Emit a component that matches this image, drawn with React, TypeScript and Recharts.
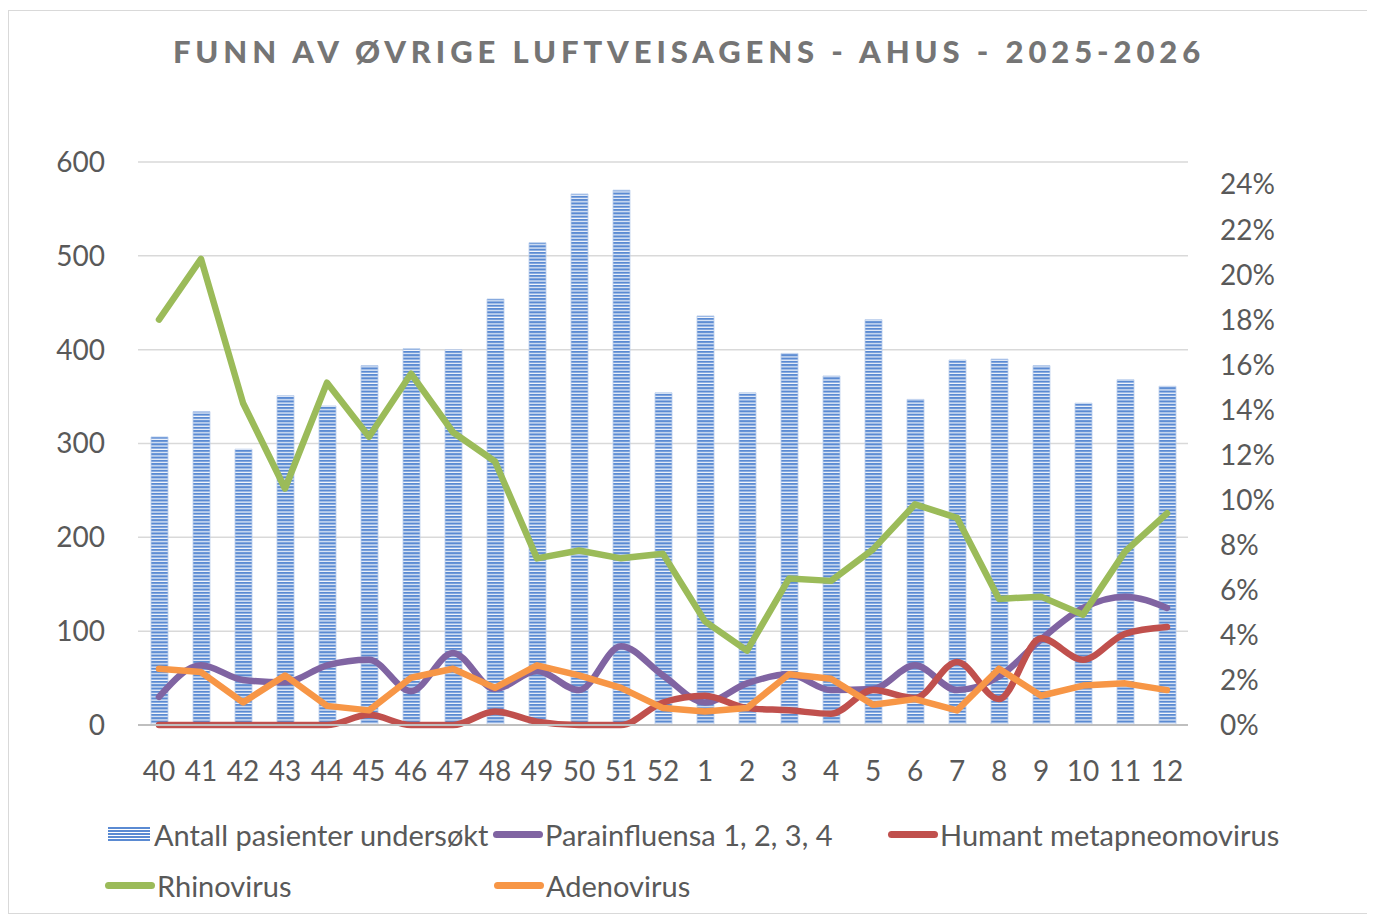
import { ComposedChart, Bar, Line, XAxis, YAxis, CartesianGrid } from 'recharts';

const weeks = ['40', '41', '42', '43', '44', '45', '46', '47', '48', '49', '50', '51', '52', '1', '2', '3', '4', '5', '6', '7', '8', '9', '10', '11', '12'];
const antall = [307, 334, 294, 351, 340, 383, 401, 400, 454, 514, 566, 570, 354, 436, 354, 396, 372, 432, 347, 389, 390, 383, 343, 368, 361];
// percent values, right axis
const parainfluensa = [1.25, 2.65, 2.0, 1.9, 2.65, 2.9, 1.5, 3.2, 1.6, 2.4, 1.55, 3.5, 2.2, 1.0, 1.85, 2.25, 1.55, 1.6, 2.65, 1.55, 2.15, 3.8, 5.2, 5.7, 5.2];
const hmpv = [0, 0, 0, 0, 0, 0.45, 0, 0, 0.6, 0.15, 0, 0, 1.0, 1.3, 0.75, 0.65, 0.5, 1.55, 1.2, 2.8, 1.15, 3.85, 2.9, 4.05, 4.35];
const rhinovirus = [18.0, 20.7, 14.3, 10.5, 15.2, 12.8, 15.6, 13.0, 11.7, 7.4, 7.75, 7.4, 7.6, 4.6, 3.3, 6.5, 6.4, 7.8, 9.8, 9.2, 5.6, 5.7, 4.9, 7.7, 9.4];
const adenovirus = [2.5, 2.35, 1.0, 2.2, 0.85, 0.65, 2.1, 2.5, 1.65, 2.65, 2.2, 1.65, 0.75, 0.6, 0.75, 2.25, 2.05, 0.9, 1.15, 0.65, 2.5, 1.3, 1.75, 1.85, 1.55];

const leftTicks = [0, 100, 200, 300, 400, 500, 600];
const rightTicks = [0, 2, 4, 6, 8, 10, 12, 14, 16, 18, 20, 22, 24];

const data = weeks.map((week, i) => ({
  week,
  antall: antall[i],
  para: parainfluensa[i],
  hmpv: hmpv[i],
  rhino: rhinovirus[i],
  adeno: adenovirus[i],
}));

const FONT = 'Lato, "Open Sans", sans-serif';
const TEXT = '#595959';
const tickStyle = { fill: TEXT, fontSize: 28, fontFamily: FONT };

const lineProps = {
  yAxisId: 'right',
  strokeWidth: 6.5,
  dot: false,
  activeDot: false,
  isAnimationActive: false,
  strokeLinejoin: 'round' as const,
  strokeLinecap: 'round' as const,
};

function LineIcon({ color }: { color: string }) {
  return <span style={{ display: 'inline-block', width: 50, height: 7, borderRadius: 4, background: color, marginRight: 2 }} />;
}

function BarIcon() {
  return (
    <span
      style={{
        display: 'inline-block',
        width: 42,
        height: 15,
        marginRight: 4,
        background: 'repeating-linear-gradient(to bottom, #5a8ad2 0px, #5a8ad2 2px, #ffffff 2px, #ffffff 3px)',
      }}
    />
  );
}

const legendItems = [
  { label: 'Antall pasienter undersøkt', x: 99, y: 823, icon: <BarIcon /> },
  { label: 'Parainfluensa 1, 2, 3, 4', x: 484, y: 823, icon: <LineIcon color="#8064A2" /> },
  { label: 'Humant metapneomovirus', x: 879, y: 823, icon: <LineIcon color="#C0504D" /> },
  { label: 'Rhinovirus', x: 96, y: 874, icon: <LineIcon color="#9BBB59" /> },
  { label: 'Adenovirus', x: 485, y: 874, icon: <LineIcon color="#F79646" /> },
];

export default function App() {
  return (
    <div
      style={{
        position: 'relative',
        width: 1360,
        height: 902,
        marginTop: 2,
        border: '1px solid #d9d9d9',
        background: '#fff',
        fontFamily: FONT,
      }}
    >
      <div
        style={{
          position: 'absolute',
          top: 20,
          left: 0,
          width: '100%',
          textAlign: 'center',
          fontSize: 31,
          fontWeight: 900,
          letterSpacing: 4.9,
          color: '#757575',
          lineHeight: '40px',
        }}
      >
        FUNN AV ØVRIGE LUFTVEISAGENS - AHUS - 2025-2026
      </div>

      <ComposedChart width={1358} height={900} data={data} margin={{ top: 151, right: 59, bottom: 136, left: 30 }}>
        <defs>
          <pattern id="stripes" width="4" height="3.3" patternUnits="userSpaceOnUse">
            <rect x="0" y="0" width="4" height="3.3" fill="#f4f7fc" />
            <rect x="0" y="0" width="4" height="2.1" fill="#5a8ad2" />
          </pattern>
        </defs>
        <CartesianGrid yAxisId="left" vertical={false} stroke="#d9d9d9" strokeWidth={1.5} />
        <XAxis
          dataKey="week"
          tick={tickStyle}
          tickLine={false}
          axisLine={{ stroke: '#bfbfbf', strokeWidth: 2 }}
          tickMargin={30}
          height={50}
          interval={0}
        />
        <YAxis
          yAxisId="left"
          domain={[0, 600]}
          ticks={leftTicks}
          tick={tickStyle}
          axisLine={false}
          tickLine={false}
          tickMargin={27}
          width={99}
        />
        <YAxis
          yAxisId="right"
          orientation="right"
          domain={[0, 25]}
          ticks={rightTicks}
          tickFormatter={(v) => `${v}%`}
          tick={tickStyle}
          axisLine={false}
          tickLine={false}
          tickMargin={26}
          width={120}
        />
        <Bar yAxisId="left" dataKey="antall" fill="url(#stripes)" stroke="#b9cdec" strokeWidth={0.8} barSize={17} isAnimationActive={false} />
        <Line {...lineProps} type="monotone" dataKey="para" stroke="#8064A2" />
        <Line {...lineProps} type="monotone" dataKey="hmpv" stroke="#C0504D" />
        <Line {...lineProps} type="linear" dataKey="rhino" stroke="#9BBB59" />
        <Line {...lineProps} type="linear" dataKey="adeno" stroke="#F79646" />
      </ComposedChart>

      {legendItems.map((item) => (
        <div
          key={item.label}
          style={{
            position: 'absolute',
            left: item.x,
            top: item.y - 17,
            height: 34,
            display: 'flex',
            alignItems: 'center',
            fontSize: 29,
            color: TEXT,
            whiteSpace: 'nowrap',
          }}
        >
          {item.icon}
          <span>{item.label}</span>
        </div>
      ))}
    </div>
  );
}
